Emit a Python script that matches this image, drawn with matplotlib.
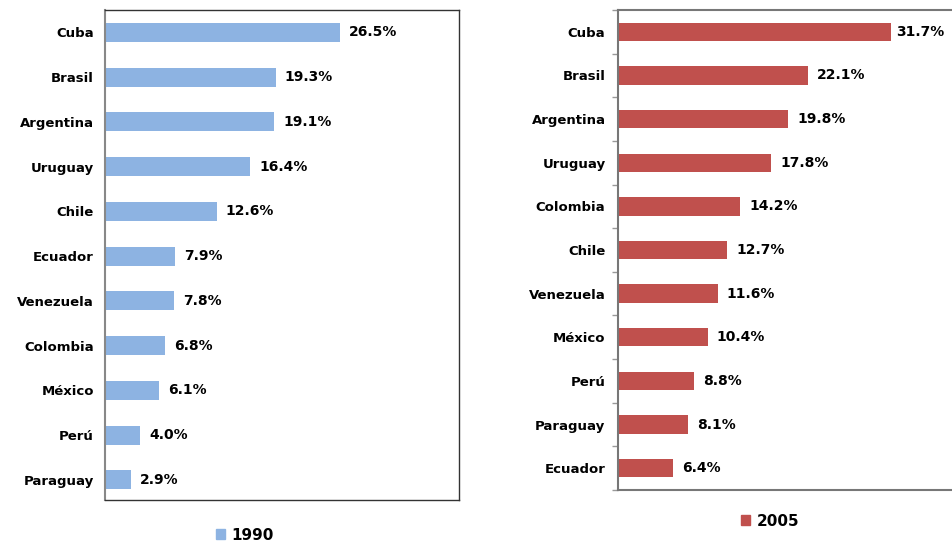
import matplotlib.pyplot as plt
from matplotlib.patches import Patch

countries_1990 = ['Cuba', 'Brasil', 'Argentina', 'Uruguay', 'Chile', 'Ecuador',
                  'Venezuela', 'Colombia', 'México', 'Perú', 'Paraguay']
values_1990 = [26.5, 19.3, 19.1, 16.4, 12.6, 7.9, 7.8, 6.8, 6.1, 4.0, 2.9]

countries_2005 = ['Cuba', 'Brasil', 'Argentina', 'Uruguay', 'Colombia', 'Chile',
                  'Venezuela', 'México', 'Perú', 'Paraguay', 'Ecuador']
values_2005 = [31.7, 22.1, 19.8, 17.8, 14.2, 12.7, 11.6, 10.4, 8.8, 8.1, 6.4]

blue = '#8DB3E2'
red = '#C0504D'
W, H = 952, 544

fig = plt.figure(figsize=(W / 100, H / 100), dpi=100)
fig.patch.set_facecolor('white')


def panel(rect, names, vals, color, xmax, box, legend_label, legend_xy):
    ax = fig.add_axes(rect)
    pos = list(range(len(names)))
    ax.barh(pos, vals, height=0.42, color=color)
    ax.set_ylim(len(names) - 0.55, -0.5)
    ax.set_xlim(0, xmax)
    ax.set_yticks(pos)
    ax.set_yticklabels(names, fontsize=9.5, fontweight='bold')
    ax.set_xticks([])
    for p, v in zip(pos, vals):
        off = 3.5 if (not box and v == max(vals)) else 6.5
        ax.annotate(f'{v:.1f}%', (v, p), xytext=(off, 0), textcoords='offset points',
                    ha='left', va='center', fontsize=10, fontweight='bold',
                    annotation_clip=False)
    if box:
        for s in ax.spines.values():
            s.set_color('#333333')
            s.set_linewidth(1.0)
        ax.spines['left'].set_color('#888888')
        ax.spines['left'].set_linewidth(1.5)
        ax.tick_params(axis='y', length=0, pad=8)
    else:
        ax.spines['right'].set_visible(False)
        for s in ['left', 'top', 'bottom']:
            ax.spines[s].set_color('#777777')
            ax.spines[s].set_linewidth(1.5)
        ax.tick_params(axis='y', length=0, pad=9)
        ax.set_yticks([p + 0.5 for p in [-1] + pos], minor=True)
        ax.tick_params(axis='y', which='minor', length=4, color='#999999', width=1)
    fig.legend(handles=[Patch(color=color, label=legend_label)], loc='center',
               bbox_to_anchor=legend_xy, frameon=False, handlelength=0.6,
               handleheight=0.6, handletextpad=0.4,
               prop={'size': 11, 'weight': 'bold'})
    return ax


panel([105 / W, 44 / H, 354 / W, 490 / H], countries_1990, values_1990, blue,
      40, True, '1990', (245 / W, 1 - 535 / H))
panel([618 / W, 54 / H, 334 / W, 480 / H], countries_2005, values_2005, red,
      38.8, False, '2005', (770 / W, 1 - 521 / H))

fig.savefig('out.png', dpi=100)
